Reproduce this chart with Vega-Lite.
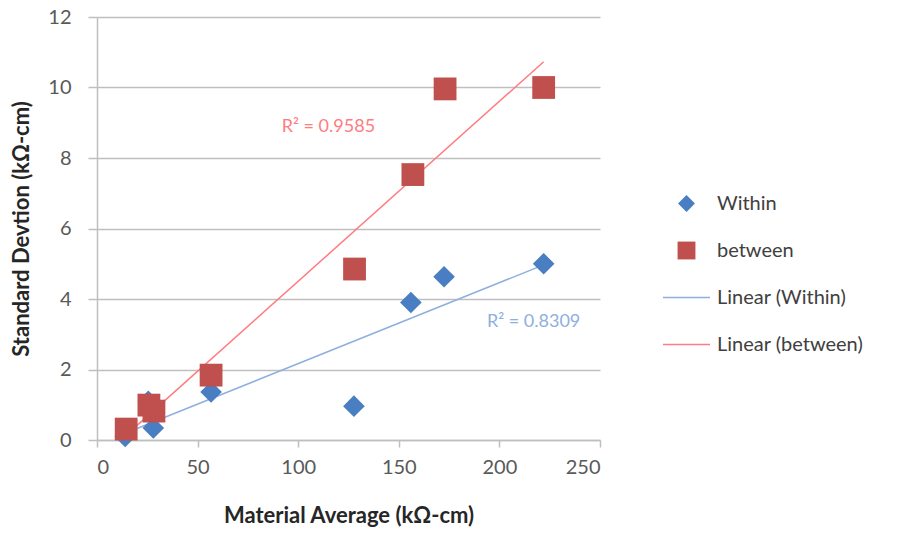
{
  "$schema": "https://vega.github.io/schema/vega-lite/v6.json",
  "width": 503,
  "height": 423,
  "autosize": {"type": "none"},
  "padding": {"left": 97, "top": 17, "right": 309, "bottom": 93},
  "config": {
    "view": {"stroke": null},
    "font": "Lato",
    "axis": {
      "labelFont": "Lato", "labelFontSize": 20, "labelColor": "#595959",
      "titleFont": "Lato", "titleFontSize": 22, "titleFontWeight": "bold", "titleColor": "#262626",
      "domainColor": "#BFBFBF", "tickColor": "#BFBFBF", "gridColor": "#BFBFBF", "domainWidth": 1.5, "gridWidth": 1.5, "tickWidth": 1.5, "tickSize": 7
    },
    "legend": {"labelFont": "Lato", "labelFontSize": 20, "labelColor": "#404040"}
  },
  "datasets": {
    "pts": [
      {"x": 14, "y": 0.1, "series": "Within"},
      {"x": 25.5, "y": 1.1, "series": "Within"},
      {"x": 28, "y": 0.34, "series": "Within"},
      {"x": 56.7, "y": 1.36, "series": "Within"},
      {"x": 127.7, "y": 0.96, "series": "Within"},
      {"x": 156, "y": 3.9, "series": "Within"},
      {"x": 172.5, "y": 4.63, "series": "Within"},
      {"x": 222, "y": 5.0, "series": "Within"},
      {"x": 14.5, "y": 0.31, "series": "between"},
      {"x": 25.8, "y": 0.99, "series": "between"},
      {"x": 28.3, "y": 0.82, "series": "between"},
      {"x": 56.7, "y": 1.84, "series": "between"},
      {"x": 128, "y": 4.85, "series": "between"},
      {"x": 157, "y": 7.53, "series": "between"},
      {"x": 173, "y": 9.96, "series": "between"},
      {"x": 222, "y": 10.0, "series": "between"}
    ],
    "labels": [
      {"x": 115, "y": 8.88, "text": "R² = 0.9585", "series": "Linear (between)"},
      {"x": 217, "y": 3.35, "text": "R² = 0.8309", "series": "Linear (Within)"}
    ]
  },
  "layer": [
    {
      "data": {"name": "pts"},
      "transform": [
        {"filter": "datum.series === 'Within'"},
        {"regression": "y", "on": "x"},
        {"calculate": "'Linear (Within)'", "as": "series"}
      ],
      "mark": {"type": "line", "strokeWidth": 1.5},
      "encoding": {
        "x": {"field": "x", "type": "quantitative"},
        "y": {"field": "y", "type": "quantitative"},
        "color": {"field": "series", "type": "nominal"}
      }
    },
    {
      "data": {"name": "pts"},
      "transform": [
        {"filter": "datum.series === 'between'"},
        {"regression": "y", "on": "x"},
        {"calculate": "'Linear (between)'", "as": "series"}
      ],
      "mark": {"type": "line", "strokeWidth": 1.5},
      "encoding": {
        "x": {"field": "x", "type": "quantitative"},
        "y": {"field": "y", "type": "quantitative"},
        "color": {"field": "series", "type": "nominal"}
      }
    },
    {
      "data": {"name": "pts"},
      "mark": {"type": "point", "filled": true, "opacity": 1},
      "encoding": {
        "x": {
          "field": "x", "type": "quantitative",
          "scale": {"domain": [0, 250], "nice": false},
          "axis": {"values": [0, 50, 100, 150, 200, 250], "grid": false, "title": "Material Average (kΩ-cm)", "titlePadding": 28, "labelPadding": 10}
        },
        "y": {
          "field": "y", "type": "quantitative",
          "scale": {"domain": [0, 12], "nice": false},
          "axis": {"values": [0, 2, 4, 6, 8, 10, 12], "grid": true, "title": "Standard Devtion (kΩ-cm)", "titlePadding": 14, "labelPadding": 17, "tickSize": 9}
        },
        "color": {
          "field": "series", "type": "nominal",
          "scale": {
            "domain": ["Within", "between", "Linear (Within)", "Linear (between)"],
            "range": ["#4A7EC2", "#C0504D", "#8EB0DE", "#FF7C80"]
          },
          "legend": {
            "title": null, "orient": "none", "legendX": 566, "legendY": 163,
            "rowPadding": 13, "symbolSize": 2209, "labelOffset": 7, "symbolStrokeWidth": 0
          }
        },
        "shape": {
          "field": "series", "type": "nominal",
          "scale": {
            "domain": ["Within", "between", "Linear (Within)", "Linear (between)"],
            "range": [
              "M0,-0.36L0.36,0L0,0.36L-0.36,0Z",
              "M-0.38,-0.38L0.38,-0.38L0.38,0.38L-0.38,0.38Z",
              "M-1,-0.035L1,-0.035L1,0.035L-1,0.035Z",
              "M-1,-0.035L1,-0.035L1,0.035L-1,0.035Z"
            ]
          },
          "legend": {
            "title": null, "orient": "none", "legendX": 566, "legendY": 163,
            "rowPadding": 13, "symbolSize": 2209, "labelOffset": 7, "symbolStrokeWidth": 0
          }
        },
        "size": {"value": 3600}
      }
    },
    {
      "data": {"name": "labels"},
      "mark": {"type": "text", "fontSize": 18, "font": "Lato"},
      "encoding": {
        "x": {"field": "x", "type": "quantitative"},
        "y": {"field": "y", "type": "quantitative"},
        "text": {"field": "text"},
        "color": {"field": "series", "type": "nominal", "legend": null}
      }
    }
  ]
}
